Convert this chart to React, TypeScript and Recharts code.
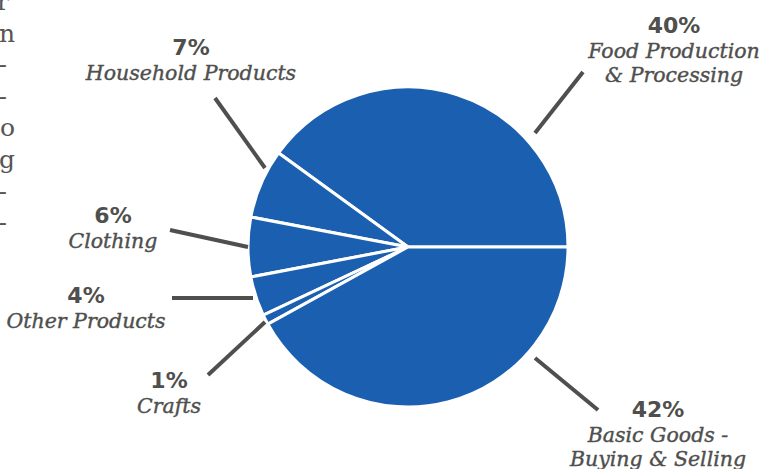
import { PieChart, Pie, Cell } from 'recharts'

const categories = [
  'Food Production\n& Processing',
  'Household Products',
  'Clothing',
  'Other Products',
  'Crafts',
  'Basic Goods -\nBuying & Selling',
]
const shares = [40, 7, 6, 4, 1, 42]

// clipped ends of the text column at the left edge of the page
const marginChars = ['r', 'n', '-', '-', 'o', 'g', '-', '-']

const data = categories.map((name, i) => ({ name, value: shares[i] }))

const BLUE = '#1b5fb0'
const INK = '#4f4f4d'

// leader line (inner x,y -> outer x,y) and text anchor, offsets from the pie centre
const labelLayout = [
  { line: [127, -114, 175, -175], x: 266, y: -214 },
  { line: [-143, -79, -193, -149], x: -217, y: -192 },
  { line: [-160, 0, -238, -17], x: -295, y: -24 },
  { line: [-155, 51, -236, 51], x: -322, y: 56 },
  { line: [-143, 75, -200, 128], x: -239, y: 141 },
  { line: [127, 111, 190, 163], x: 250, y: 170 },
]

function renderLabel(props: any) {
  const { cx, cy, index, value, name } = props
  const l = labelLayout[index]
  const [x1, y1, x2, y2] = l.line
  const lines = String(name).split('\n')
  return (
    <g key={`lbl-${index}`}>
      <line x1={cx + x1} y1={cy + y1} x2={cx + x2} y2={cy + y2} stroke={INK} strokeWidth={4} />
      <text
        x={cx + l.x}
        y={cy + l.y}
        textAnchor="middle"
        fill={INK}
        style={{ fontFamily: 'DejaVu Sans', fontWeight: 'bold', fontSize: 22 }}
      >
        {value}%
      </text>
      {lines.map((t, k) => (
        <text
          key={k}
          x={cx + l.x}
          y={cy + l.y + 25 + k * 24}
          textAnchor="middle"
          fill={INK}
          stroke={INK}
          strokeWidth={0.4}
          style={{ fontFamily: 'DejaVu Serif', fontStyle: 'italic', fontSize: 20.5 }}
        >
          {t}
        </text>
      ))}
    </g>
  )
}

export default function App() {
  return (
    <div style={{ position: 'absolute', left: 0, top: 0, width: 764, height: 469, background: '#fff' }}>
      <svg width={764} height={469} style={{ position: 'absolute', left: 0, top: 0 }}>
        {marginChars.map((c, i) => (
          <text
            key={i}
            x={c === '-' ? 7 : c === 'r' ? 9 : 15}
            y={10 + i * 31.6}
            textAnchor="end"
            fill="#555"
            style={{ fontFamily: 'DejaVu Serif', fontSize: 25 }}
          >
            {c}
          </text>
        ))}
      </svg>
      <div style={{ position: 'absolute', left: 0, top: 0 }}>
        <PieChart width={764} height={469} margin={{ top: 0, right: 0, bottom: 0, left: 0 }}>
          <Pie
            data={data}
            dataKey="value"
            nameKey="name"
            cx={408}
            cy={247}
            outerRadius={160}
            startAngle={0}
            endAngle={360}
            stroke="#fff"
            strokeWidth={3}
            label={renderLabel}
            labelLine={false}
            isAnimationActive={false}
          >
            {data.map((d, i) => (
              <Cell key={i} fill={BLUE} />
            ))}
          </Pie>
        </PieChart>
      </div>
    </div>
  )
}
